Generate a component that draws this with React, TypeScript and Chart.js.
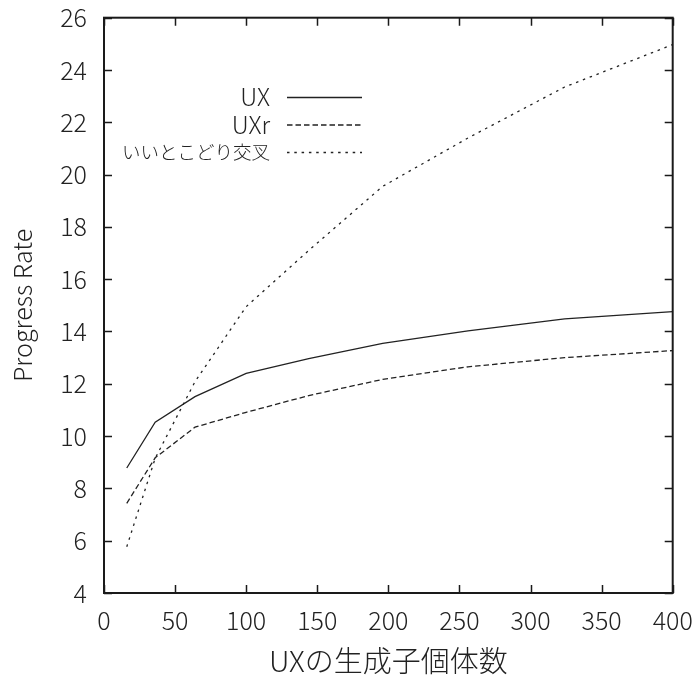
import React, { useEffect, useRef } from "react";
import { Chart, registerables } from "chart.js";

Chart.register(...registerables);

// Number of offspring generated by UX (x axis)
const offspringCounts = [16, 36, 64, 100, 144, 196, 256, 324, 400];

// Progress rate for each crossover method
const uxRate = [8.78, 10.53, 11.51, 12.4, 12.96, 13.55, 14.02, 14.48, 14.76];
const uxrRate = [7.43, 9.17, 10.34, 10.91, 11.55, 12.17, 12.65, 13.0, 13.27];
const bestPickRate = [5.77, 9.15, 12.08, 14.95, 17.1, 19.55, 21.4, 23.35, 24.97];

const seriesLabels = ["UX", "UXr", "いいとこどり交叉"];

const xTickStep = 50;
const yTickStep = 2;

const FONT = "'Noto Sans CJK JP', 'Noto Sans', sans-serif";
const INK = "#1a1a1a";

const toPoints = (vals: number[]) => vals.map((v, i) => ({ x: offspringCounts[i], y: v }));

// Scales should not reserve room for overhanging tick labels
const noScalePadding = (s: any) => {
  s.paddingTop = 0;
  s.paddingBottom = 0;
  s.paddingLeft = 0;
  s.paddingRight = 0;
};

// Border, inward ticks on all four sides, and a key placed inside the plot
const framePlugin = {
  id: "gnuplotFrame",
  afterDatasetsDraw(chart: any) {
    const { ctx, chartArea: a, scales } = chart;
    const xs = scales.x;
    const ys = scales.y;
    const tick = 8;
    ctx.save();
    ctx.strokeStyle = INK;
    ctx.lineWidth = 1.5;
    ctx.beginPath();
    for (const t of xs.ticks) {
      const px = Math.round(xs.getPixelForValue(t.value)) + 0.5;
      ctx.moveTo(px, a.bottom);
      ctx.lineTo(px, a.bottom - tick);
      ctx.moveTo(px, a.top);
      ctx.lineTo(px, a.top + tick);
    }
    for (const t of ys.ticks) {
      const py = Math.round(ys.getPixelForValue(t.value)) + 0.5;
      ctx.moveTo(a.left, py);
      ctx.lineTo(a.left + tick, py);
      ctx.moveTo(a.right, py);
      ctx.lineTo(a.right - tick, py);
    }
    ctx.stroke();
    ctx.lineWidth = 2;
    ctx.strokeRect(a.left, a.top, a.right - a.left, a.bottom - a.top);

    // key
    const textRight = 270;
    const lineStart = 287;
    const lineEnd = 362;
    const rowY = [97, 124.5, 152];
    ctx.textAlign = "right";
    ctx.textBaseline = "middle";
    chart.data.datasets.forEach((ds: any, i: number) => {
      const ascii = /^[\x00-\x7f]*$/.test(ds.label);
      ctx.font = ascii ? `300 24px ${FONT}` : `300 18.5px ${FONT}`;
      ctx.fillStyle = "#222";
      ctx.fillText(ds.label, textRight, rowY[i]);
      ctx.strokeStyle = ds.borderColor;
      ctx.lineWidth = ds.borderWidth;
      ctx.setLineDash(ds.borderDash || []);
      ctx.beginPath();
      ctx.moveTo(lineStart, rowY[i] + 0.5);
      ctx.lineTo(lineEnd, rowY[i] + 0.5);
      ctx.stroke();
    });
    ctx.restore();
  },
};

export default function App() {
  const canvasRef = useRef<HTMLCanvasElement | null>(null);

  useEffect(() => {
    const canvas = canvasRef.current;
    if (!canvas) return;
    const lineBase = {
      borderColor: "#222",
      borderWidth: 1.3,
      pointRadius: 0,
      tension: 0,
      fill: false,
    };
    const chart = new Chart(canvas, {
      type: "line",
      data: {
        datasets: [
          { ...lineBase, label: seriesLabels[0], data: toPoints(uxRate) },
          { ...lineBase, label: seriesLabels[1], data: toPoints(uxrRate), borderDash: [5.5, 3] },
          { ...lineBase, label: seriesLabels[2], data: toPoints(bestPickRate), borderDash: [2.5, 4.8] },
        ],
      },
      options: {
        responsive: false,
        animation: false,
        layout: { padding: { top: 17.7, right: 26.3, left: 0, bottom: 0 } },
        plugins: {
          legend: { display: false },
          tooltip: { enabled: false },
        },
        scales: {
          x: {
            type: "linear",
            min: 0,
            max: 400,
            grid: { display: false, drawTicks: false },
            border: { display: false },
            ticks: {
              stepSize: xTickStep,
              padding: 12,
              color: "#222",
              font: { family: FONT, size: 25, weight: "300" as any },
              maxRotation: 0,
            },
            title: {
              display: true,
              text: "UXの生成子個体数",
              color: "#222",
              font: { family: FONT, size: 29, weight: "300" as any, lineHeight: 1 },
              padding: 0,
            },
            afterFit: (s: any) => {
              s.height = 82;
              noScalePadding(s);
            },
          },
          y: {
            type: "linear",
            min: 4,
            max: 26,
            grid: { display: false, drawTicks: false },
            border: { display: false },
            ticks: {
              stepSize: yTickStep,
              padding: 17,
              color: "#222",
              font: { family: FONT, size: 25, weight: "300" as any },
            },
            title: {
              display: true,
              text: "Progress Rate",
              color: "#222",
              font: { family: FONT, size: 25, weight: "300" as any, lineHeight: 1.2 },
              padding: { top: 7, bottom: 0 },
            },
            afterFit: (s: any) => {
              s.width = 104;
              noScalePadding(s);
            },
          },
        },
      },
      plugins: [framePlugin],
    });
    return () => chart.destroy();
  }, []);

  return (
    <div style={{ position: "fixed", left: 0, top: 0, width: 699, height: 675, background: "#fff" }}>
      <canvas ref={canvasRef} width={699} height={675} style={{ display: "block" }} />
    </div>
  );
}
